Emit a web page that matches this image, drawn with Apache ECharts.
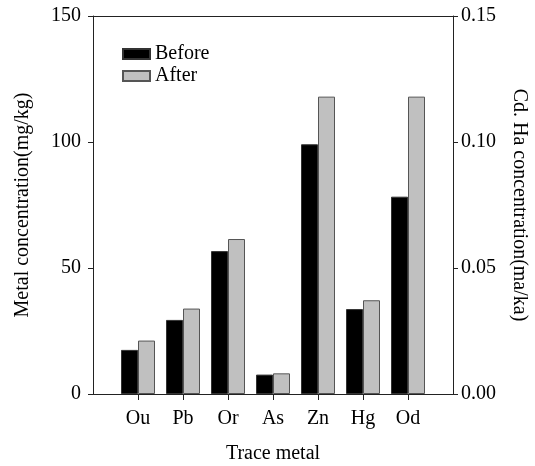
<!DOCTYPE html>
<html>
<head>
<meta charset="utf-8">
<script src="https://cdn.jsdelivr.net/npm/echarts@6/dist/echarts.min.js"></script>
<style>
  html, body { margin: 0; padding: 0; background: #fff; }
  #chart { width: 535px; height: 466px; }
</style>
</head>
<body>
<div id="chart"></div>
<script>
// padded with empty slots so the metals sit one step in from each axis
const metals = ['', 'Ou', 'Pb', 'Or', 'As', 'Zn', 'Hg', 'Od', ''];
const before = [null, 17.5, 29.4, 56.7, 7.7, 99.1, 33.7, 78.3, null];
const after = [null, 21.2, 33.9, 61.5, 8.2, 118, 37.2, 118, null];
const leftTicks = [0, 50, 100, 150];
const rightTicks = [0, 0.05, 0.10, 0.15];

const font = "'Liberation Serif', 'Times New Roman', serif";
const axisColor = '#222';

const chart = echarts.init(document.getElementById('chart'));
const option = {
  animation: false,
  textStyle: { fontFamily: font, color: '#000' },
  grid: { left: 93, right: 82, top: 16, bottom: 72, outerBoundsMode: 'none', containLabel: false },
  legend: {
    orient: 'vertical',
    left: 117,
    top: 39,
    icon: 'rect',
    itemWidth: 27,
    itemHeight: 10,
    itemGap: 2,
    textStyle: { fontFamily: font, fontSize: 20, color: '#000' },
    data: ['Before', 'After']
  },
  xAxis: {
    type: 'category',
    data: metals,
    boundaryGap: false,
    name: 'Trace metal',
    nameLocation: 'middle',
    nameGap: 50,
    nameTextStyle: { fontFamily: font, fontSize: 20, color: '#000' },
    axisLine: { onZero: false, lineStyle: { color: axisColor, width: 1 } },
    axisTick: {
      show: true,
      length: 6,
      interval: (i) => i > 0 && i < metals.length - 1,
      lineStyle: { color: axisColor }
    },
    axisLabel: { fontFamily: font, fontSize: 20, color: '#000', margin: 15, interval: 0 },
    splitLine: { show: false }
  },
  yAxis: [
    {
      type: 'value',
      min: leftTicks[0],
      max: leftTicks[leftTicks.length - 1],
      interval: 50,
      position: 'left',
      name: 'Metal concentration(mg/kg)',
      nameLocation: 'middle',
      nameGap: 60,
      nameTextStyle: { fontFamily: font, fontSize: 20, color: '#000' },
      axisLine: { show: true, lineStyle: { color: axisColor, width: 1 } },
      axisTick: { show: true, length: 5, lineStyle: { color: axisColor } },
      axisLabel: { fontFamily: font, fontSize: 20, color: '#000', margin: 12 },
      splitLine: { show: false }
    },
    {
      type: 'value',
      min: rightTicks[0],
      max: rightTicks[rightTicks.length - 1],
      interval: 0.05,
      position: 'right',
      name: 'Cd. Ha concentration(ma/ka)',
      nameLocation: 'middle',
      nameRotate: -90,
      nameGap: 56,
      nameTextStyle: { fontFamily: font, fontSize: 20, color: '#000' },
      axisLine: { show: true, lineStyle: { color: axisColor, width: 1 } },
      axisTick: { show: true, length: 5, lineStyle: { color: axisColor } },
      axisLabel: {
        fontFamily: font, fontSize: 20, color: '#000', margin: 8,
        formatter: (v) => v.toFixed(2)
      },
      splitLine: { show: false }
    }
  ],
  series: [
    {
      name: 'Before',
      type: 'bar',
      data: before,
      barWidth: 17,
      barGap: '0%',
      itemStyle: { color: '#000', borderColor: '#333', borderWidth: 1 }
    },
    {
      name: 'After',
      type: 'bar',
      data: after,
      barWidth: 17,
      barGap: '0%',
      itemStyle: { color: '#c0c0c0', borderColor: '#555', borderWidth: 1 }
    },
    {
      // top border of the frame
      type: 'line',
      data: [],
      markLine: {
        silent: true,
        symbol: 'none',
        label: { show: false },
        lineStyle: { color: axisColor, width: 1, type: 'solid' },
        data: [{ yAxis: leftTicks[leftTicks.length - 1] }]
      }
    }
  ]
};
chart.setOption(option);
</script>
</body>
</html>
